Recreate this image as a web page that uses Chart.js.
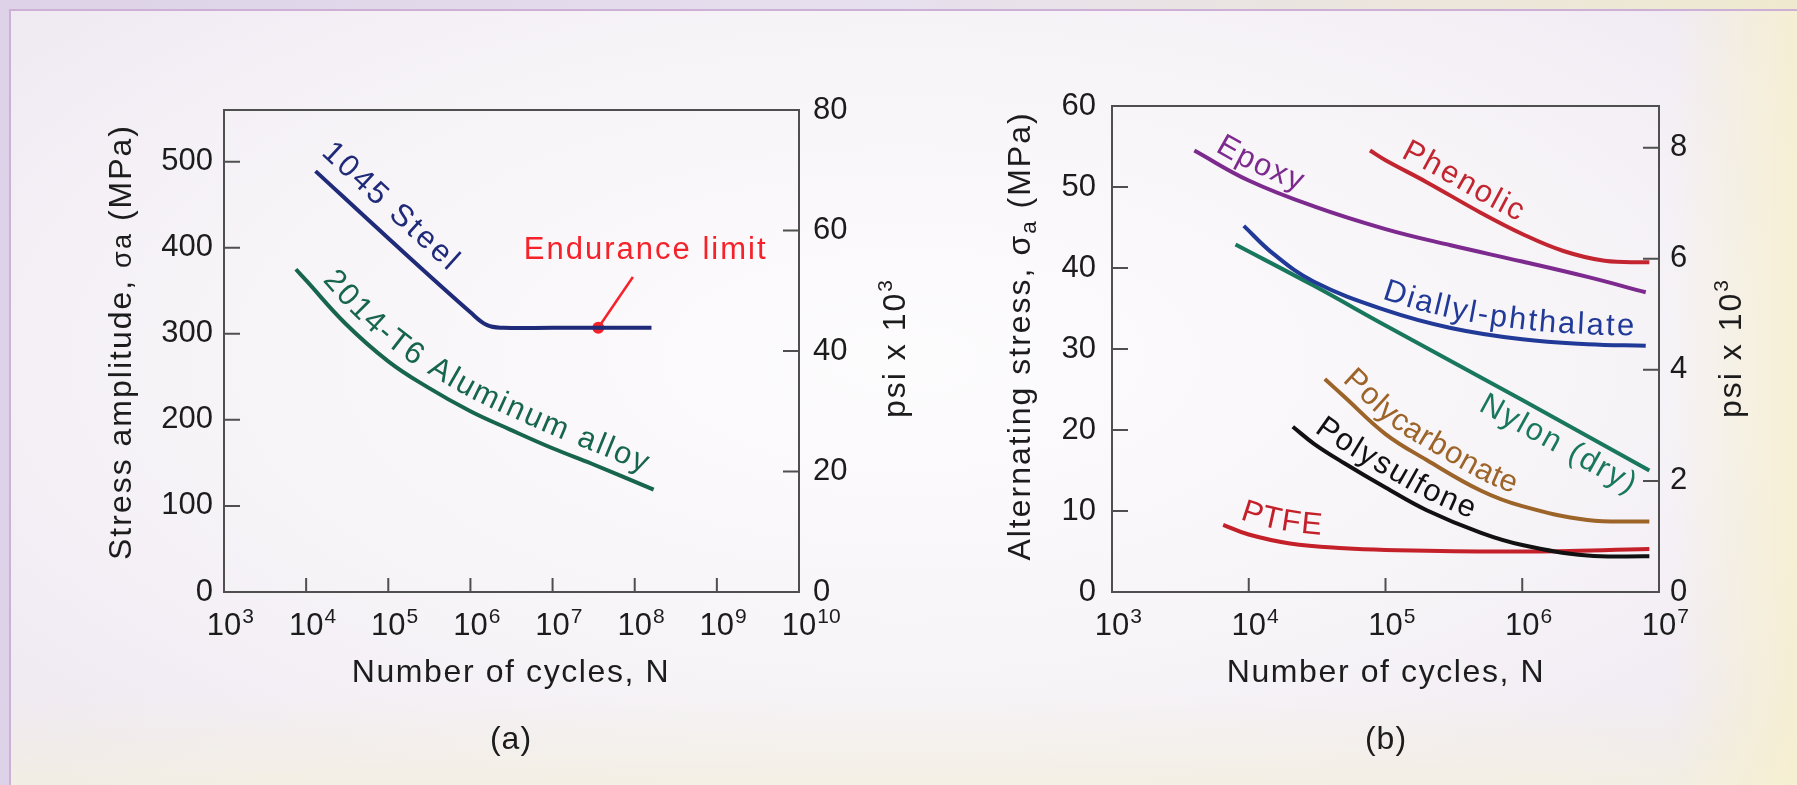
<!DOCTYPE html>
<html>
<head>
<meta charset="utf-8">
<title>S-N curves</title>
<script src="https://cdn.jsdelivr.net/npm/chart.js@4.4.1/dist/chart.umd.min.js"></script>
<style>
  html, body { margin: 0; padding: 0; }
  body {
    width: 1797px; height: 785px; overflow: hidden; position: relative;
    background: linear-gradient(90deg, #ddd2e7 0%, #e7e0ee 50%, #efeacf 100%);
  }
  .panel {
    position: absolute; left: 9px; top: 9px; right: 0; bottom: 0;
    border-top: 2px solid #cdb0d5; border-left: 2px solid #cdb0d5;
    background:
      linear-gradient(90deg, rgba(0,0,0,0) 93%, rgba(247,240,204,0.8) 100%),
      linear-gradient(180deg, rgba(0,0,0,0) 88%, rgba(244,240,222,0.7) 100%),
      radial-gradient(ellipse 70% 75% at 50% 45%, #fdfcfd 0%, #f7f4f8 55%, #eee8f1 100%);
  }
  canvas { position: absolute; top: 0; }
  #chartA { left: 0; }
  #chartB { left: 900px; }
</style>
</head>
<body>
<div class="panel"></div>
<canvas id="chartA" width="940" height="785"></canvas>
<canvas id="chartB" width="897" height="785"></canvas>
<script>
// ---------- (a) metals ----------
const cycleTicksA = [1e3, 1e4, 1e5, 1e6, 1e7, 1e8, 1e9, 1e10];
const stressTicksA = [0, 100, 200, 300, 400, 500];
const psiTicksA = [0, 20, 40, 60, 80];

const steelCycles = [1.3e4, 1e5, 1e6, 1.6e6, 2.5e6, 1e7, 1.6e8];
const steelStress = [489, 411, 325, 310, 307, 307, 307];

const aluminumCycles = [7.5e3, 1e4, 3e4, 1e5, 3e5, 1e6, 3e6, 1e7, 3e7, 1.7e8];
const aluminumStress = [375, 362, 312, 268, 238, 210, 189, 167, 149, 119];

const enduranceCycles = [3.6e7];
const enduranceStress = [307];
const pointerCycles = [3.6e7, 9.5e7];
const pointerStress = [307, 366];

// ---------- (b) polymers ----------
const cycleTicksB = [1e3, 1e4, 1e5, 1e6, 1e7];
const stressTicksB = [0, 10, 20, 30, 40, 50, 60];
const psiTicksB = [0, 2, 4, 6, 8];

const epoxyCycles = [4e3, 1e4, 3e4, 1e5, 3e5, 1e6, 3e6, 8e6];
const epoxyStress = [54.5, 50.8, 47.6, 44.8, 42.8, 40.8, 38.9, 37.0];

const phenolicCycles = [7.7e4, 1e5, 2e5, 5e5, 1e6, 2e6, 4e6, 8.5e6];
const phenolicStress = [54.5, 53.3, 50.6, 46.8, 44.2, 42.1, 40.9, 40.7];

const diallylCycles = [9.2e3, 1.5e4, 3e4, 1e5, 3e5, 1e6, 3e6, 8e6];
const diallylStress = [45.2, 41.8, 38.3, 34.8, 32.6, 31.2, 30.6, 30.4];

const nylonCycles = [8e3, 3e4, 1e5, 1e6, 8.5e6];
const nylonStress = [42.9, 37.8, 32.9, 23.7, 15.0];

const polycarbonateCycles = [3.6e4, 5e4, 1e5, 2e5, 5e5, 1e6, 3e6, 8.5e6];
const polycarbonateStress = [26.3, 24.1, 19.5, 16.3, 12.5, 10.6, 8.9, 8.7];

const polysulfoneCycles = [2.1e4, 3e4, 5e4, 1e5, 2e5, 5e5, 1e6, 3e6, 8.5e6];
const polysulfoneStress = [20.4, 18.3, 15.9, 12.9, 10.1, 7.3, 5.8, 4.5, 4.4];

const ptfeCycles = [6.5e3, 1e4, 2e4, 5e4, 1e5, 1e6, 8.5e6];
const ptfeStress = [8.3, 7.1, 6.0, 5.4, 5.2, 5.0, 5.3];

// ---------- styling ----------
const FONT = '"Liberation Sans", Arial, Helvetica, sans-serif';
const TEXT = '#1c1c1c';
const AXIS = '#4f4f4f';

const pts = (xs, ys) => xs.map((x, i) => ({ x: x, y: ys[i] }));

function curve(xs, ys, color, extra) {
  return Object.assign({
    data: pts(xs, ys),
    borderColor: color,
    borderWidth: 4,
    pointRadius: 0,
    fill: false,
    tension: 0.4,
    yAxisID: 'y'
  }, extra || {});
}

// per-chart decoration (titles, curve labels)
const decor = {
  chartA: {
    yTitle: { parts: [{ t: 'Stress amplitude, ' }, { t: 'σa', k: 0.85 }, { t: ' (MPa)' }], x: 131, y: 342 },
    y2Title: { parts: [{ t: 'psi x 10' }, { t: '3', k: 0.65, dy: -0.42 }], x: 905, y: 348 },
    xTitle: { text: 'Number of cycles, N', x: 511, y: 682 },
    sub: { text: '(a)', x: 511, y: 749 },
    labels: [
      { ds: 0, text: '1045 Steel', start: -8, offset: 16, sp: 2.8, color: '#1f2a78' },
      { ds: 1, text: '2014-T6 Aluminum alloy', start: 26, offset: 12, sp: 2.4, color: '#17654f' }
    ],
    note: { text: 'Endurance limit', x: 1.36e8, y: 397, color: '#f5222a' }
  },
  chartB: {
    yTitle: { parts: [{ t: 'Alternating stress, σ' }, { t: 'a', k: 0.7, dy: 0.2 }, { t: ' (MPa)' }], x: 130, y: 336 },
    y2Title: { parts: [{ t: 'psi x 10' }, { t: '3', k: 0.65, dy: -0.42 }], x: 841, y: 348 },
    xTitle: { text: 'Number of cycles, N', x: 486, y: 682 },
    sub: { text: '(b)', x: 486, y: 749 },
    labels: [
      { ds: 0, text: 'Epoxy', start: 18, offset: 10, sp: 2.2, color: '#7d2a8e' },
      { ds: 1, text: 'Phenolic', start: 30, offset: 10, sp: 2.2, color: '#c2252f' },
      { ds: 2, text: 'Diallyl-phthalate', start: 160, offset: 10, sp: 2.4, color: '#213a97' },
      { ds: 3, text: 'Nylon (dry)', start: 292, offset: -30, sp: 2.2, color: '#18775c' },
      { ds: 4, text: 'Polycarbonate', start: 14, offset: 10, sp: 1.0, color: '#9c6428' },
      { ds: 5, text: 'Polysulfone', start: 20, offset: 10, sp: 2.2, color: '#111111' },
      { ds: 6, text: 'PTFE', start: 14, offset: 12, sp: 2.2, color: '#c4202a' }
    ]
  }
};

function drawRich(ctx, parts, x, y, rot, size, color, spacing) {
  ctx.save();
  ctx.translate(x, y);
  ctx.rotate(rot);
  ctx.fillStyle = color;
  ctx.textAlign = 'left';
  ctx.textBaseline = 'alphabetic';
  ctx.letterSpacing = (spacing || 0) + 'px';
  const widths = parts.map(p => { ctx.font = `${size * (p.k || 1)}px ${FONT}`; return ctx.measureText(p.t).width; });
  let cx = -widths.reduce((s, w) => s + w, 0) / 2;
  parts.forEach((p, i) => {
    ctx.font = `${size * (p.k || 1)}px ${FONT}`;
    ctx.fillText(p.t, cx, (p.dy || 0) * size);
    cx += widths[i];
  });
  ctx.restore();
}

// sample the drawn bezier of a dataset into a polyline
function sampleCurve(meta) {
  const d = meta.data, out = [];
  for (let i = 0; i < d.length - 1; i++) {
    const a = d[i], b = d[i + 1];
    const c1x = a.cp2x ?? a.x, c1y = a.cp2y ?? a.y, c2x = b.cp1x ?? b.x, c2y = b.cp1y ?? b.y;
    for (let k = 0; k < 16; k++) {
      const t = k / 16, u = 1 - t;
      out.push({
        x: u * u * u * a.x + 3 * u * u * t * c1x + 3 * u * t * t * c2x + t * t * t * b.x,
        y: u * u * u * a.y + 3 * u * u * t * c1y + 3 * u * t * t * c2y + t * t * t * b.y
      });
    }
  }
  const last = d[d.length - 1];
  out.push({ x: last.x, y: last.y });
  return out;
}

function pointAt(p, cum, s) {
  let i = 1;
  while (i < p.length - 1 && cum[i] < s) i++;
  const a = p[i - 1], b = p[i];
  const t = (s - cum[i - 1]) / ((cum[i] - cum[i - 1]) || 1);
  return { x: a.x + (b.x - a.x) * t, y: a.y + (b.y - a.y) * t };
}

function drawAlongCurve(ctx, p, lab) {
  const cum = [0];
  for (let i = 1; i < p.length; i++) cum.push(cum[i - 1] + Math.hypot(p[i].x - p[i - 1].x, p[i].y - p[i - 1].y));
  ctx.save();
  ctx.font = `31px ${FONT}`;
  ctx.fillStyle = lab.color;
  ctx.textAlign = 'center';
  ctx.textBaseline = 'alphabetic';
  let s = lab.start;
  for (const ch of lab.text) {
    const w = ctx.measureText(ch).width;
    const mid = s + w / 2;
    const p0 = pointAt(p, cum, mid - 24), p1 = pointAt(p, cum, mid + 24);
    const ang = Math.atan2(p1.y - p0.y, p1.x - p0.x);
    const c = pointAt(p, cum, mid);
    ctx.save();
    ctx.translate(c.x + Math.sin(ang) * lab.offset, c.y - Math.cos(ang) * lab.offset);
    ctx.rotate(ang);
    ctx.fillText(ch, 0, 0);
    ctx.restore();
    s += w + lab.sp;
  }
  ctx.restore();
}

const snDecor = {
  id: 'snDecor',
  afterDatasetsDraw(chart) {
    const d = decor[chart.canvas.id];
    const { ctx, chartArea: a, scales } = chart;
    const { x, y, y2 } = scales;
    ctx.save();
    // frame
    ctx.strokeStyle = AXIS;
    ctx.lineWidth = 2;
    ctx.strokeRect(a.left, a.top, a.right - a.left, a.bottom - a.top);
    // inward tick marks
    ctx.beginPath();
    y.ticks.forEach(t => {
      if (t.value <= y.min || t.value >= y.max) return;
      const py = y.getPixelForValue(t.value);
      ctx.moveTo(a.left, py); ctx.lineTo(a.left + 16, py);
    });
    y2.ticks.forEach(t => {
      if (t.value <= y2.min || t.value >= y2.max) return;
      const py = y2.getPixelForValue(t.value);
      ctx.moveTo(a.right, py); ctx.lineTo(a.right - 16, py);
    });
    x.ticks.forEach(t => {
      if (t.value <= x.min || t.value >= x.max) return;
      const px = x.getPixelForValue(t.value);
      ctx.moveTo(px, a.bottom); ctx.lineTo(px, a.bottom - 14);
    });
    ctx.stroke();

    // x tick labels: 10 with exponent
    ctx.fillStyle = TEXT;
    ctx.textAlign = 'left';
    ctx.textBaseline = 'alphabetic';
    x.ticks.forEach(t => {
      const px = x.getPixelForValue(t.value);
      ctx.font = `31px ${FONT}`;
      const bw = ctx.measureText('10').width;
      ctx.fillText('10', px - bw / 2, a.bottom + 43);
      ctx.font = `21px ${FONT}`;
      ctx.fillText(String(Math.round(Math.log10(t.value))), px + bw / 2 + 1, a.bottom + 31);
    });

    // titles
    drawRich(ctx, d.yTitle.parts, d.yTitle.x, d.yTitle.y, -Math.PI / 2, 32, TEXT, 2);
    drawRich(ctx, d.y2Title.parts, d.y2Title.x, d.y2Title.y, -Math.PI / 2, 32, TEXT, 2);
    drawRich(ctx, [{ t: d.xTitle.text }], d.xTitle.x, d.xTitle.y, 0, 32, TEXT, 1.6);
    drawRich(ctx, [{ t: d.sub.text }], d.sub.x, d.sub.y, 0, 32, TEXT, 1);

    // curve labels
    d.labels.forEach(lab => drawAlongCurve(ctx, sampleCurve(chart.getDatasetMeta(lab.ds)), lab));

    if (d.note) {
      ctx.font = `31px ${FONT}`;
      ctx.letterSpacing = '2px';
      ctx.fillStyle = d.note.color;
      ctx.textAlign = 'center';
      ctx.textBaseline = 'middle';
      ctx.fillText(d.note.text, x.getPixelForValue(d.note.x), y.getPixelForValue(d.note.y));
      ctx.letterSpacing = '0px';
    }
    ctx.restore();
  }
};

function axes(cycleTicks, xMin, xMax, stressTicks, yMax, psiTicks, y2Max, leftW, rightW, leftPad, rightPad) {
  const fixTicks = list => scale => { scale.ticks = list.map(v => ({ value: v })); };
  const noGrid = { display: false, drawTicks: false };
  return {
    x: {
      type: 'logarithmic', min: xMin, max: xMax,
      afterBuildTicks: fixTicks(cycleTicks),
      ticks: { display: false },
      grid: noGrid, border: { display: false },
      afterFit: s => { s.height = 193; }
    },
    y: {
      type: 'linear', position: 'left', min: 0, max: yMax,
      afterBuildTicks: fixTicks(stressTicks),
      ticks: { color: TEXT, font: { family: FONT, size: 31 }, padding: leftPad },
      grid: noGrid, border: { display: false },
      afterFit: s => { s.width = leftW; }
    },
    y2: {
      type: 'linear', position: 'right', min: 0, max: y2Max,
      afterBuildTicks: fixTicks(psiTicks),
      ticks: { color: TEXT, font: { family: FONT, size: 31 }, padding: rightPad },
      grid: noGrid, border: { display: false },
      afterFit: s => { s.width = rightW; }
    }
  };
}

const common = {
  responsive: false,
  animation: false,
  devicePixelRatio: 1,
  plugins: { legend: { display: false }, tooltip: { enabled: false } },
  events: []
};

new Chart(document.getElementById('chartA'), {
  type: 'line',
  data: {
    datasets: [
      curve(steelCycles, steelStress, '#1f2a78'),
      curve(aluminumCycles, aluminumStress, '#17654f'),
      curve(pointerCycles, pointerStress, '#f5222a', { borderWidth: 2.5, tension: 0 }),
      curve(enduranceCycles, enduranceStress, '#f5222a', { showLine: false, pointRadius: 6, pointBackgroundColor: '#f5222a', pointBorderWidth: 0 })
    ]
  },
  options: Object.assign({}, common, {
    layout: { padding: { top: 110, left: 0, right: 0, bottom: 0 } },
    scales: axes(cycleTicksA, 1e3, 1e10, stressTicksA, 560, psiTicksA, 80, 224, 141, 11, 14)
  }),
  plugins: [snDecor]
});

new Chart(document.getElementById('chartB'), {
  type: 'line',
  data: {
    datasets: [
      curve(epoxyCycles, epoxyStress, '#7d2a8e'),
      curve(phenolicCycles, phenolicStress, '#c2252f'),
      curve(diallylCycles, diallylStress, '#213a97'),
      curve(nylonCycles, nylonStress, '#18775c'),
      curve(polycarbonateCycles, polycarbonateStress, '#9c6428'),
      curve(polysulfoneCycles, polysulfoneStress, '#111111'),
      curve(ptfeCycles, ptfeStress, '#c4202a')
    ]
  },
  options: Object.assign({}, common, {
    layout: { padding: { top: 106, left: 0, right: 0, bottom: 0 } },
    scales: axes(cycleTicksB, 1e3, 1e7, stressTicksB, 60, psiTicksB, 8.75, 212, 138, 16, 11)
  }),
  plugins: [snDecor]
});
</script>
</body>
</html>
